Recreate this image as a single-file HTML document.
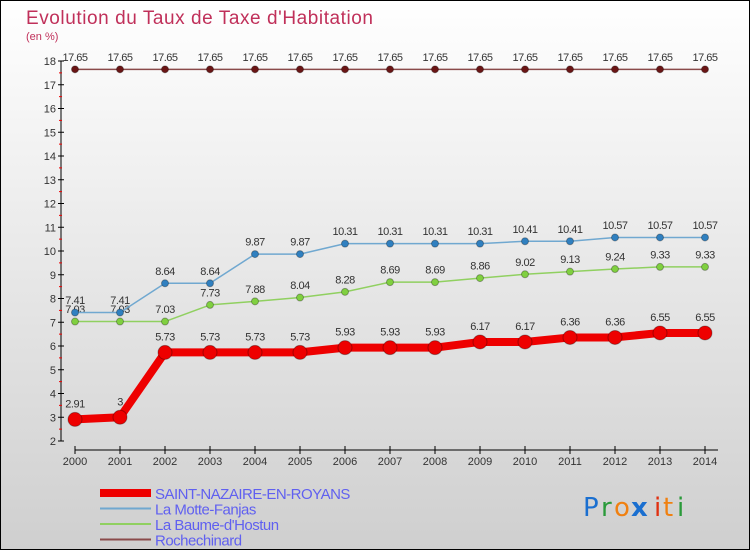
<!DOCTYPE html>
<html><head><meta charset="utf-8"><style>
html,body{margin:0;padding:0}
body{width:750px;height:550px;overflow:hidden;font-family:"Liberation Sans",sans-serif}
</style></head><body>
<svg id="c" width="750" height="550" xmlns="http://www.w3.org/2000/svg">
<defs><linearGradient id="bg" x1="0" y1="0" x2="0" y2="1"><stop offset="0" stop-color="#ffffff"/><stop offset="1" stop-color="#cfcfcf"/></linearGradient></defs>
<rect x="0.5" y="0.5" width="749" height="549" fill="url(#bg)" stroke="#000"/>
<text x="26" y="24" font-size="19" fill="#c0305a" textLength="347">Evolution du Taux de Taxe d'Habitation</text>
<text x="26" y="40" font-size="11" fill="#c0305a">(en %)</text>
<g id="axes"></g><g id="series"></g><g id="legend"></g>
<g font-size="26" font-family="'DejaVu Sans',sans-serif">
<text x="583" y="516" fill="#1a6fd0">P</text><text x="601" y="516" fill="#2a9a3a">r</text><text x="614" y="516" fill="#f08010">o</text><text x="631" y="516" fill="#1a6fd0" font-weight="bold">x</text><text x="654" y="516" fill="#e03010">i</text><text x="663" y="516" fill="#f08010">t</text><text x="677" y="516" fill="#2a9a3a">i</text>
</g>
</svg>
<script>
const years=[2000,2001,2002,2003,2004,2005,2006,2007,2008,2009,2010,2011,2012,2013,2014];
const saint=[2.91,3,5.73,5.73,5.73,5.73,5.93,5.93,5.93,6.17,6.17,6.36,6.36,6.55,6.55];
const motte=[7.41,7.41,8.64,8.64,9.87,9.87,10.31,10.31,10.31,10.31,10.41,10.41,10.57,10.57,10.57];
const baume=[7.03,7.03,7.03,7.73,7.88,8.04,8.28,8.69,8.69,8.86,9.02,9.13,9.24,9.33,9.33];
const roche=[17.65,17.65,17.65,17.65,17.65,17.65,17.65,17.65,17.65,17.65,17.65,17.65,17.65,17.65,17.65];
const yTicks=[2,3,4,5,6,7,8,9,10,11,12,13,14,15,16,17,18];
const names=["SAINT-NAZAIRE-EN-ROYANS","La Motte-Fanjas","La Baume-d'Hostun","Rochechinard"];
const NS="http://www.w3.org/2000/svg";
const X=i=>75+i*45, Y=v=>441-(v-2)*23.75;
function mk(p,t,a,txt){const e=document.createElementNS(NS,t);for(const k in a)e.setAttribute(k,a[k]);if(txt!==undefined)e.textContent=txt;p.appendChild(e);return e;}
const ax=document.getElementById('axes');
let e=mk(ax,'line',{x1:61,y1:Y(18),x2:61,y2:Y(2),stroke:'#000'});

e=mk(ax,'line',{x1:75,y1:450,x2:718,y2:450,stroke:'#000'});

yTicks.forEach(v=>{mk(ax,'line',{x1:58,y1:Y(v),x2:64,y2:Y(v),stroke:'#000'});
 if(v<18)mk(ax,'line',{x1:59,y1:Y(v+0.5),x2:62,y2:Y(v+0.5),stroke:'#e00'});
 e=mk(ax,'text',{x:56,y:Y(v)+4,'font-size':11,fill:'#333','text-anchor':'end'},v);
 });
years.forEach((y,i)=>{mk(ax,'line',{x1:X(i),y1:446,x2:X(i),y2:454,stroke:'#000'});
 e=mk(ax,'text',{x:X(i),y:465,'font-size':11,fill:'#333','text-anchor':'middle'},y);
 });
const sg=document.getElementById('series');
function series(data,col,w,r,name,dot){const g=mk(sg,'g',{});
 
 mk(g,'polyline',{points:data.map((v,i)=>X(i)+','+Y(v)).join(' '),fill:'none',stroke:col,'stroke-width':w,'stroke-linejoin':'round'});
 data.forEach((v,i)=>{e=mk(g,'circle',{cx:X(i),cy:Y(v),r:r,fill:dot,stroke:'rgba(0,0,0,0.3)'});
  
  e=mk(g,'text',{x:X(i),y:Y(v)-r-5,'font-size':11,fill:'#333','text-anchor':'middle','letter-spacing':'-0.5'},v);
  });}
series(roche,'#8a4a4a',1.5,3.5,'series-rochechinard','#6a1515');
series(baume,'#90d060',1.5,3.5,'series-la-baume','#80d040');
series(motte,'#70a8d0',1.5,3.5,'series-la-motte','#3080c0');
series(saint,'#ee0000',8,7,'series-saint-nazaire','#ee0000');
const lg=document.getElementById('legend');
const lc=['#ee0000','#70a8d0','#90d060','#8a4a4a'],lw=[8,2,2,2];
names.forEach((n,i)=>{const g=mk(lg,'g',{});
 const y=493+i*15.5;mk(g,'line',{x1:100,y1:y,x2:151,y2:y,stroke:lc[i],'stroke-width':lw[i]});
 mk(g,'text',{x:155,y:y+6,'font-size':15,fill:'#6060f0','letter-spacing':'-0.5'},n);});
</script>
</body></html>
